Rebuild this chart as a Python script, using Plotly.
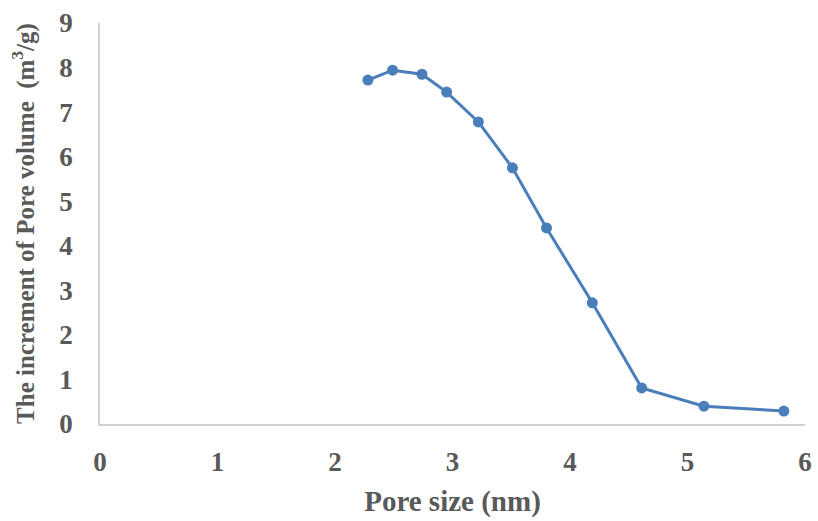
import plotly.graph_objects as go

pore_size = [2.28, 2.49, 2.74, 2.95, 3.22, 3.51, 3.80, 4.19, 4.61, 5.14, 5.82]
pore_volume = [7.72, 7.94, 7.85, 7.45, 6.78, 5.75, 4.40, 2.72, 0.81, 0.40, 0.29]

x_ticks = [0, 1, 2, 3, 4, 5, 6]
y_ticks = [0, 1, 2, 3, 4, 5, 6, 7, 8, 9]

font_family = "Liberation Serif"
gray = "#595959"

fig = go.Figure()
fig.add_trace(go.Scatter(
    x=pore_size, y=pore_volume, mode="lines+markers",
    line=dict(color="#4a7ebb", width=3),
    marker=dict(color="#4a7ebb", size=11),
    showlegend=False,
))

tick_font = dict(size=27, family=font_family, color=gray, weight="bold")

fig.update_layout(
    width=818, height=521,
    margin=dict(l=100, r=13, t=23, b=97),
    paper_bgcolor="white", plot_bgcolor="white",
    font=dict(family=font_family, color=gray),
    xaxis=dict(
        range=[0, 6], tickvals=x_ticks, showgrid=False, zeroline=False,
        showline=True, linecolor="#d0d0d0", linewidth=1.5, automargin=False,
        ticks="", tickfont=tick_font, ticklabelstandoff=13,
        title=dict(text="Pore size (nm)", font=dict(size=29, color=gray, weight="bold"), standoff=15),
    ),
    yaxis=dict(
        range=[0, 9], tickvals=y_ticks, showgrid=False, zeroline=False,
        showline=True, linecolor="#d0d0d0", linewidth=1.5, automargin=False,
        ticks="", tickfont=tick_font, ticklabelstandoff=20,
        title=dict(text="The increment of Pore volume  (m<sup>3</sup>/g)", font=dict(size=25, color=gray, weight="bold"), standoff=18),
    ),
)

fig.write_html("out.html")
